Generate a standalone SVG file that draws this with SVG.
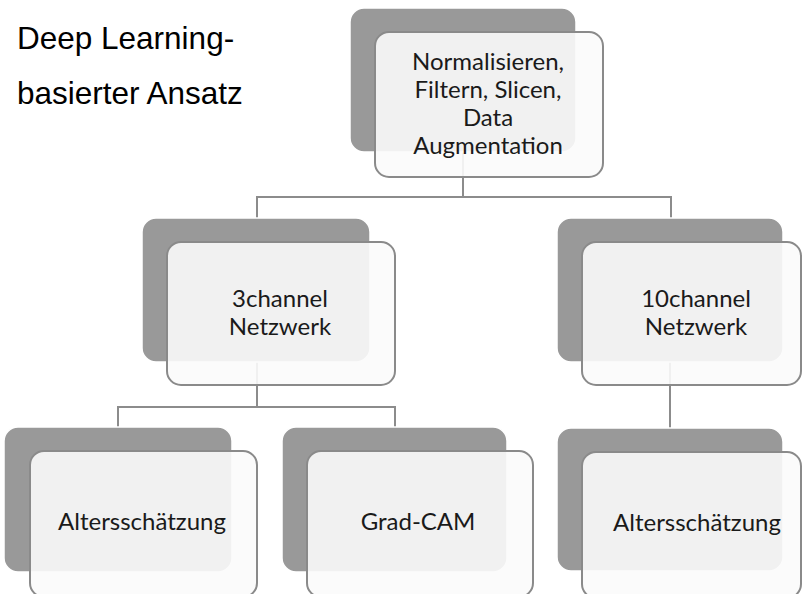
<svg xmlns="http://www.w3.org/2000/svg" width="803" height="594" viewBox="0 0 803 594">
<style>
.bg{fill:#ffffff}
.conn{fill:none;stroke:#8c8c8c;stroke-width:2}
.back{fill:#999999;stroke:#ffffff;stroke-width:1.5}
.front{fill:#fbfbfb;fill-opacity:0.9;stroke:#8a8a8a;stroke-width:2}
.lbl{font-family:Lato,"Noto Sans",sans-serif;font-size:24px;fill:#1a1a1a;text-anchor:middle}
.title{font-family:"Liberation Sans",Arial,sans-serif;font-size:31.5px;fill:#000000}
</style>
<rect class="bg" x="0" y="0" width="803" height="594"/>
<g id="title">
<text class="title" x="17" y="49">Deep Learning-</text>
<text class="title" x="17" y="104">basierter Ansatz</text>
</g>
<g id="connectors">
<path class="conn" d="M463,100 V197 M257,218 V197 H671 V218"/>
<path class="conn" d="M257,300 V407 M118,427 V407 H395 V427"/>
<path class="conn" d="M670,300 V428"/>
</g>
<g id="n-preprocess">
<rect class="back" x="350" y="8" width="226" height="144" rx="14"/>
<rect class="front" x="375" y="32" width="228" height="145" rx="14"/>
<text class="lbl"><tspan x="488" y="70">Normalisieren,</tspan><tspan x="488" y="98">Filtern, Slicen,</tspan><tspan x="488" y="126">Data</tspan><tspan x="488" y="154">Augmentation</tspan></text>
</g>
<g id="n-3channel">
<rect class="back" x="142" y="218" width="228" height="144" rx="14"/>
<rect class="front" x="167" y="242" width="228" height="143" rx="14"/>
<text class="lbl"><tspan x="280" y="307">3channel</tspan><tspan x="280" y="335">Netzwerk</tspan></text>
</g>
<g id="n-10channel">
<rect class="back" x="557" y="218" width="226" height="144" rx="14"/>
<rect class="front" x="582" y="242" width="219" height="143" rx="14"/>
<text class="lbl"><tspan x="696" y="307">10channel</tspan><tspan x="696" y="335">Netzwerk</tspan></text>
</g>
<g id="n-alter1">
<rect class="back" x="4" y="427" width="228" height="145" rx="14"/>
<rect class="front" x="30" y="451" width="227" height="146" rx="14"/>
<text class="lbl" x="142" y="530">Altersschätzung</text>
</g>
<g id="n-gradcam">
<rect class="back" x="282" y="427" width="225" height="145" rx="14"/>
<rect class="front" x="307" y="451" width="226" height="146" rx="14"/>
<text class="lbl" x="418" y="530">Grad-CAM</text>
</g>
<g id="n-alter2">
<rect class="back" x="557" y="428" width="226" height="143" rx="14"/>
<rect class="front" x="582" y="452" width="219" height="146" rx="14"/>
<text class="lbl" x="697" y="531">Altersschätzung</text>
</g>
</svg>
